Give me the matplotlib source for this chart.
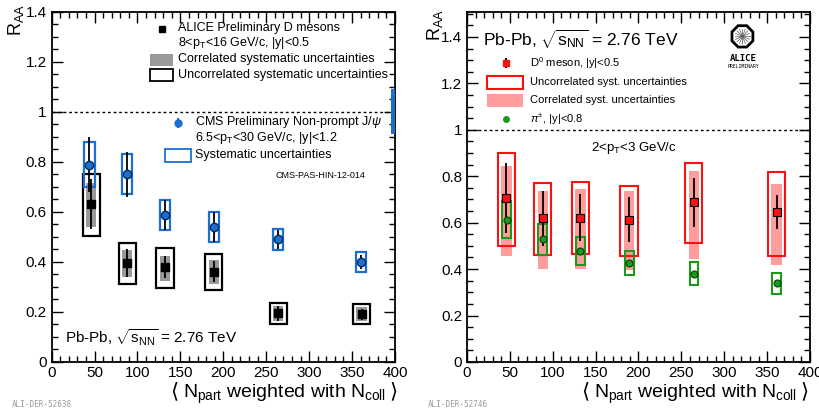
import numpy as np
import matplotlib
matplotlib.use("Agg")
import matplotlib.pyplot as plt
from matplotlib.patches import Rectangle, RegularPolygon
from matplotlib.ticker import MultipleLocator

plt.rcParams['font.family'] = ['Liberation Sans', 'DejaVu Sans']
plt.rcParams['mathtext.fontset'] = 'custom'
plt.rcParams['mathtext.rm'] = 'Liberation Sans'
plt.rcParams['mathtext.it'] = 'Liberation Sans:italic'

# ---- left panel: ALICE D mesons 8<pT<16 ----
d_npart = [46, 88, 132, 189, 264, 361]
d_raa = [0.633, 0.395, 0.379, 0.361, 0.195, 0.191]
d_stat = [0.10, 0.057, 0.045, 0.043, 0.030, 0.022]
d_corr_lo = [0.541, 0.338, 0.322, 0.311, 0.162, 0.163]
d_corr_hi = [0.714, 0.448, 0.424, 0.408, 0.222, 0.220]
d_unc_lo = [0.504, 0.312, 0.295, 0.286, 0.153, 0.153]
d_unc_hi = [0.753, 0.474, 0.454, 0.430, 0.235, 0.233]

# CMS non-prompt J/psi
j_npart = [44, 88, 132.4, 189.5, 264, 360.4]
j_raa = [0.789, 0.750, 0.587, 0.540, 0.490, 0.400]
j_stat = [0.11, 0.09, 0.06, 0.06, 0.037, 0.028]
j_sys_lo = [0.700, 0.670, 0.528, 0.478, 0.448, 0.359]
j_sys_hi = [0.880, 0.830, 0.647, 0.600, 0.530, 0.441]
j_global = [0.91, 1.09]

# ---- right panel: D0 2<pT<3 and charged pions ----
d0_npart = [46, 88.3, 132.3, 189, 264.6, 361]
d0_raa = [0.707, 0.618, 0.622, 0.613, 0.688, 0.645]
d0_stat = [0.15, 0.12, 0.10, 0.097, 0.105, 0.073]
d0_corr_lo = [0.458, 0.402, 0.402, 0.398, 0.445, 0.419]
d0_corr_hi = [0.843, 0.738, 0.743, 0.735, 0.822, 0.768]
d0_unc_lo = [0.501, 0.460, 0.465, 0.455, 0.513, 0.455]
d0_unc_hi = [0.900, 0.771, 0.776, 0.760, 0.857, 0.819]

pi_npart = [46.3, 88.3, 132.3, 189.5, 264.6, 361]
pi_raa = [0.613, 0.530, 0.480, 0.427, 0.381, 0.340]
pi_sys_lo = [0.534, 0.462, 0.419, 0.373, 0.330, 0.294]
pi_sys_hi = [0.692, 0.596, 0.539, 0.477, 0.429, 0.383]

BLUE = '#1a6fd0'
GREY = '#999999'
PINK = '#ff9c9c'
RED = '#ff1010'
GREEN = '#1a9a1a'

fig = plt.figure(figsize=(8.2, 4.09), dpi=100)
axL = fig.add_axes([0.063, 0.115, 0.4187, 0.856])
axR = fig.add_axes([0.5695, 0.115, 0.4183, 0.856])


def boxes(ax, xs, lo, hi, hw, fill=None, edge=None, lw=1.5, z=2):
    for x, a, b in zip(xs, lo, hi):
        if fill is not None:
            ax.add_patch(Rectangle((x - hw, a), 2 * hw, b - a, facecolor=fill,
                                   edgecolor='none', zorder=z))
        else:
            ax.add_patch(Rectangle((x - hw, a), 2 * hw, b - a, facecolor='none',
                                   edgecolor=edge, lw=lw, zorder=z))


def style(ax, ymax):
    ax.set_xlim(0, 400)
    ax.set_ylim(0, ymax)
    ax.xaxis.set_major_locator(MultipleLocator(50))
    ax.xaxis.set_minor_locator(MultipleLocator(10))
    ax.yaxis.set_major_locator(MultipleLocator(0.2))
    ax.yaxis.set_minor_locator(MultipleLocator(0.05))
    ax.set_yticks(np.arange(0, 1.41, 0.2))
    ax.set_yticklabels(['0', '0.2', '0.4', '0.6', '0.8', '1', '1.2', '1.4'])
    ax.set_xticks(np.arange(0, 401, 50))
    ax.set_xticklabels([str(v) for v in range(0, 401, 50)])
    ax.tick_params(which='both', direction='in', top=True, right=True, labelsize=11)
    ax.tick_params(which='major', length=8, width=1)
    ax.tick_params(which='minor', length=4, width=1)
    ax.tick_params(axis='x', pad=3)
    for s in ax.spines.values():
        s.set_linewidth(1.3)
    ax.axhline(1.0, color='black', ls=(0, (2, 2)), lw=1, zorder=1)


# ----- left -----
style(axL, 1.4)
boxes(axL, d_npart, d_corr_lo, d_corr_hi, 6, fill=GREY)
boxes(axL, d_npart, d_unc_lo, d_unc_hi, 10, edge='black', lw=1.6)
boxes(axL, j_npart, j_sys_lo, j_sys_hi, 6, edge=BLUE, lw=1.6, z=3)
axL.errorbar(d_npart, d_raa, yerr=d_stat, fmt='s', color='black', ms=6,
             elinewidth=1.3, capsize=0, zorder=4)
axL.errorbar(j_npart, j_raa, yerr=j_stat, fmt='o', mfc=BLUE, mec='#0a2a55',
             ecolor='black', ms=6, elinewidth=1.3, capsize=0, zorder=5)
axL.add_patch(Rectangle((395.5, j_global[0]), 4.5, j_global[1] - j_global[0],
                        facecolor=BLUE, edgecolor='none', zorder=3, clip_on=False))

tr = axL.transAxes
axL.plot([0.321], [0.951], 's', color='black', ms=5, transform=tr)
axL.text(0.368, 0.954, 'ALICE Preliminary D mesons', transform=tr, fontsize=9, va='center')
axL.text(0.368, 0.911, r'8<p$_{\rm T}$<16 GeV/c, |y|<0.5', transform=tr, fontsize=9, va='center')
axL.add_patch(Rectangle((0.286, 0.846), 0.067, 0.034, facecolor=GREY, edgecolor='none', transform=tr))
axL.text(0.368, 0.866, 'Correlated systematic uncertainties', transform=tr, fontsize=9, va='center')
axL.add_patch(Rectangle((0.286, 0.803), 0.067, 0.034, facecolor='none', edgecolor='black',
                        lw=1.3, transform=tr))
axL.text(0.368, 0.820, 'Uncorrelated systematic uncertainties', transform=tr, fontsize=9, va='center')
axL.errorbar([0.368], [0.683], yerr=[0.015], fmt='o', mfc=BLUE, mec=BLUE, ecolor=BLUE,
             ms=5, transform=tr, capsize=0)
axL.text(0.417, 0.686, r'CMS Preliminary Non-prompt J/$\psi$', transform=tr, fontsize=9, va='center')
axL.text(0.417, 0.641, r'6.5<p$_{\rm T}$<30 GeV/c, |y|<1.2', transform=tr, fontsize=9, va='center')
axL.add_patch(Rectangle((0.33, 0.571), 0.076, 0.038, facecolor='none', edgecolor=BLUE,
                        lw=1.3, transform=tr))
axL.text(0.417, 0.591, 'Systematic uncertainties', transform=tr, fontsize=9, va='center')
axL.text(0.653, 0.534, 'CMS-PAS-HIN-12-014', transform=tr, fontsize=6.5, va='center')
axL.text(0.039, 0.069, r'Pb-Pb, $\sqrt{\mathrm{s}_{\rm NN}}$ = 2.76 TeV', transform=tr, fontsize=11, va='center')

# ----- right -----
style(axR, 1.508)
boxes(axR, d0_npart, d0_corr_lo, d0_corr_hi, 6, fill=PINK)
boxes(axR, d0_npart, d0_unc_lo, d0_unc_hi, 10, edge=RED, lw=1.5)
boxes(axR, pi_npart, pi_sys_lo, pi_sys_hi, 5, edge=GREEN, lw=1.5, z=3)
axR.errorbar(d0_npart, d0_raa, yerr=d0_stat, fmt='s', mfc=RED, mec='black', ecolor='black',
             ms=6, mew=0.8, elinewidth=1.3, capsize=0, zorder=4)
axR.plot(pi_npart, pi_raa, 'o', mfc=GREEN, mec='#0a3a0a', ms=5, mew=0.8, zorder=5)

tr = axR.transAxes
axR.text(0.047, 0.92, r'Pb-Pb, $\sqrt{\mathrm{s}_{\rm NN}}$ = 2.76 TeV', transform=tr, fontsize=12.5, va='center')
axR.errorbar([0.114], [0.854], yerr=[0.014], fmt='s', color=RED, ecolor='black', ms=5,
             transform=tr, capsize=0)
axR.text(0.184, 0.854, r'D$^{0}$ meson, |y|<0.5', transform=tr, fontsize=8, va='center')
axR.add_patch(Rectangle((0.058, 0.78), 0.105, 0.037, facecolor='none', edgecolor=RED,
                        lw=1.5, transform=tr))
axR.text(0.184, 0.80, 'Uncorrelated syst. uncertainties', transform=tr, fontsize=8, va='center')
axR.add_patch(Rectangle((0.058, 0.729), 0.105, 0.037, facecolor=PINK, edgecolor='none', transform=tr))
axR.text(0.184, 0.749, 'Correlated syst. uncertainties', transform=tr, fontsize=8, va='center')
axR.plot([0.114], [0.694], 'o', color=GREEN, ms=4, transform=tr)
axR.text(0.184, 0.694, r'$\pi^{\pm}$, |y|<0.8', transform=tr, fontsize=8, va='center')
axR.text(0.487, 0.611, r'2<p$_{\rm T}$<3 GeV/c', transform=tr, fontsize=9.5, va='center', ha='center')

# ALICE logo
axR.add_patch(RegularPolygon((0.803, 0.93), 8, radius=0.033, orientation=np.pi / 8,
                             facecolor='white', edgecolor='black', lw=2, transform=tr))
for a in np.linspace(0, 2 * np.pi, 16, endpoint=False):
    axR.plot([0.803, 0.803 + 0.022 * np.cos(a)], [0.93, 0.93 + 0.022 * np.sin(a)],
             color='#555555', lw=0.5, transform=tr)
axR.text(0.805, 0.868, 'ALICE', transform=tr, fontsize=6.5, ha='center', va='center',
         family='DejaVu Sans Mono', weight='bold')
axR.text(0.805, 0.843, 'PRELIMINARY', transform=tr, fontsize=3.5, ha='center', va='center',
         family='DejaVu Sans Mono')

# axis titles: brackets drawn separately so they keep text height
renderer = fig.canvas.get_renderer()
body = r'N$_{\rm part}$ weighted with N$_{\rm coll}$'
W = fig.bbox.width
for xr_px in (397, 808):
    yb = 0.026
    rb = fig.text(xr_px / W, yb, r'$\rangle$', fontsize=15, ha='right', va='baseline',
                  math_fontfamily='dejavusans')
    w = rb.get_window_extent(renderer).width
    bt = fig.text((xr_px - w - 3) / W, yb, body, fontsize=14, ha='right', va='baseline')
    left = bt.get_window_extent(renderer).x0
    fig.text((left - 4) / W, yb, r'$\langle$', fontsize=15, ha='right', va='baseline',
             math_fontfamily='dejavusans')

fig.text(0.019, 0.99, r'R$_{\rm AA}$', fontsize=13, rotation=90, ha='center', va='top')
fig.text(0.530, 0.978, r'R$_{\rm AA}$', fontsize=13, rotation=90, ha='center', va='top')
fig.text(0.015, 0.006, 'ALI-DER-52638', fontsize=5.5, color='#999999', family='DejaVu Sans Mono')
fig.text(0.522, 0.004, 'ALI-DER-52746', fontsize=5.5, color='#999999', family='DejaVu Sans Mono')

fig.savefig('out.png', dpi=100)
